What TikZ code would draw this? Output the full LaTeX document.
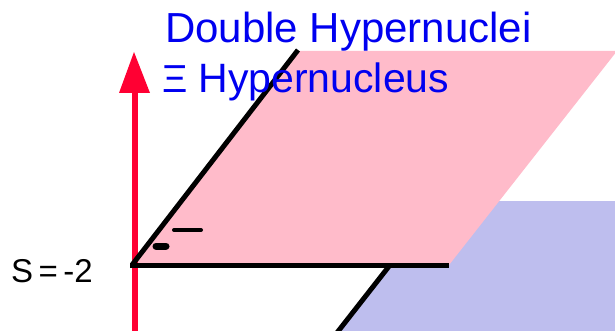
\documentclass[tikz,border=0pt]{standalone}
\usepackage{fontspec}
\setmainfont{Liberation Sans}
\definecolor{planepink}{HTML}{FFBBCA}
\definecolor{planeblue}{HTML}{BEBEEE}
\definecolor{axisred}{HTML}{FF0033}
\definecolor{labelblue}{HTML}{0000F0}
\begin{document}
\begin{tikzpicture}[x=1pt,y=-1pt,
  edgeline/.style={line width=5pt,black},
  tickmark/.style={line width=4pt,black,line cap=round},
  bluelabel/.style={text=labelblue,inner sep=0pt,anchor=base west},
  blacklabel/.style={text=black,inner sep=0pt,anchor=base west}]
\useasboundingbox (0,0) rectangle (615,331);
% lower (blue) plane
\fill[planeblue] (439,201) -- (620,201) -- (620,336) -- (333,336) -- cycle;
% upper (pink) plane
\fill[planepink] (132,265) -- (298,51) -- (617,51) -- (449,265) -- cycle;
% red axis
\draw[axisred,line width=6pt] (135,336) -- (135,90);
\fill[axisred] (134,52) -- (150,93) -- (119,93) -- cycle;
% black edges
\draw[edgeline] (130,265) -- (449,265);
\draw[edgeline] (132,265) -- (298,50);
\draw[edgeline] (390,265) -- (336,334);
% small marks
\draw[tickmark] (174,230) -- (201,230);
\draw[line width=7pt,black,line cap=round] (156,246) -- (166,246);
% labels
\node[bluelabel,font=\fontsize{42}{42}\selectfont] (dh) at (165,43) {Double Hypernuclei};
\node[bluelabel,font=\fontsize{41}{41}\selectfont] (xh) at (162,93) {{\fontsize{39}{39}\selectfont Ξ}\hspace{11pt}Hypernucleus};
\node[blacklabel,font=\fontsize{33}{33}\selectfont] (s) at (11,282) {S\,=\,-2};
\end{tikzpicture}
\end{document}
